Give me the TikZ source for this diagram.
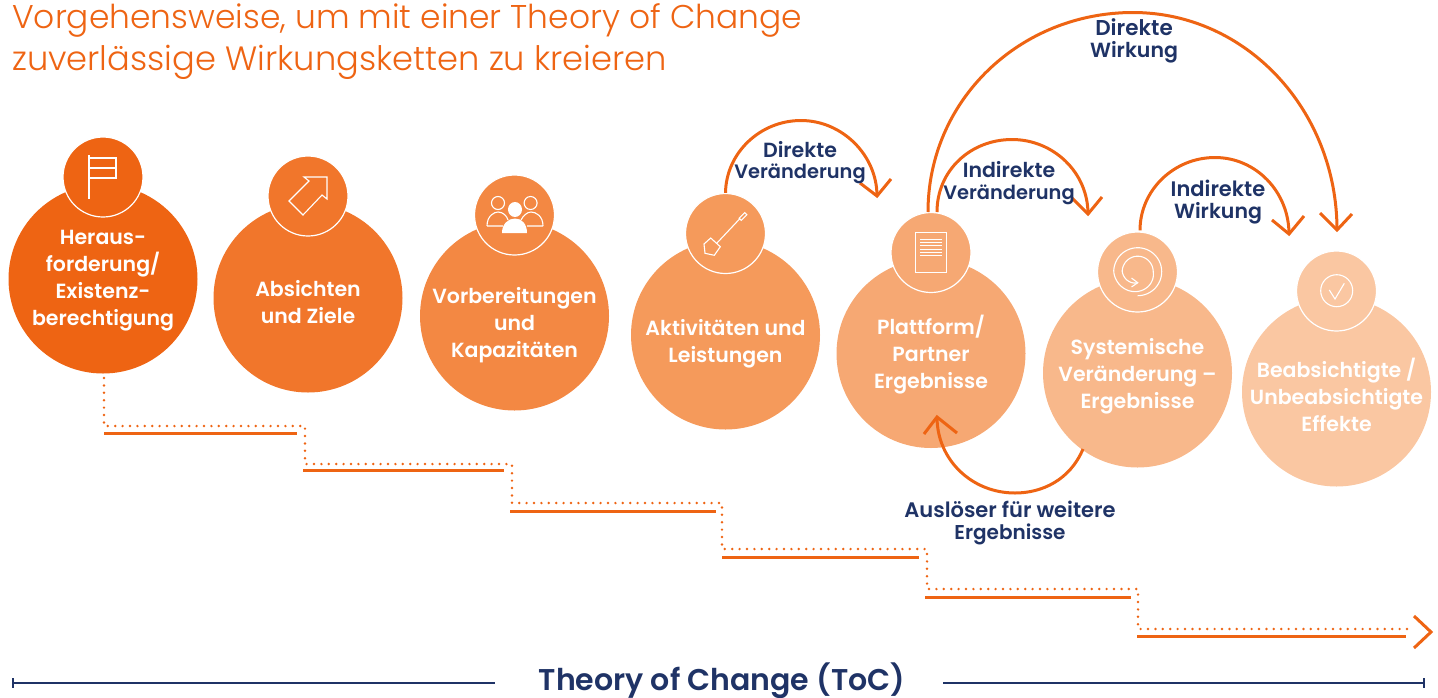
\documentclass[tikz,border=0pt]{standalone}
\usepackage{fontspec}
\setmainfont{Poppins}[UprightFont=* SemiBold]
\newfontfamily\ttl{Poppins}[UprightFont=* Light]
\definecolor{c1}{HTML}{EE6413}\definecolor{c2}{HTML}{F1762B}\definecolor{c3}{HTML}{F38843}
\definecolor{c4}{HTML}{F59A5B}\definecolor{c5}{HTML}{F6A873}\definecolor{c6}{HTML}{F8B88B}
\definecolor{c7}{HTML}{FAC7A2}\definecolor{navy}{HTML}{1F3366}\definecolor{ora}{HTML}{EE6413}
\newcommand{\lsz}[1]{\fontsize{#1}{21.5}\selectfont}
\tikzset{
 big/.style={circle,fill=#1,minimum size=189pt,inner sep=0pt},
 small/.style={circle,fill=#1,draw=white,line width=1.2pt,minimum size=80pt,inner sep=0pt},
 intxt/.style={text=white,align=center,font=\fontsize{20.5}{27}\selectfont},
 lbl/.style={text=navy,align=center,font=\fontsize{20}{21.5}\selectfont},
 conn/.style={draw=ora,line width=3pt},
 icon/.style={draw=white,line width=1.1pt},
 dots/.style={draw=ora,line width=2.7pt,line cap=round,dash pattern=on 0pt off 7.4pt},
 stepline/.style={draw=ora,line width=3pt},
 rule/.style={draw=navy,line width=2.2pt}
}
\begin{document}
\begin{tikzpicture}[x=1pt,y=-1pt,declare function={sprad(\t)=(\t<180)*24+(\t>=180)*(\t<360)*(24-8.5*(\t-180)/180)+(\t>=360)*(\t<540)*15.5+(\t>=540)*(15.5-4.5*(\t-540)/90);}]
\useasboundingbox (0,0) rectangle (1438,697);
\node[anchor=base west,inner sep=0pt,text=ora,font=\ttl\fontsize{32.9}{33}\selectfont] (title1) at (12,28) {Vorgehensweise, um mit einer Theory of Change};
\node[anchor=base west,inner sep=0pt,text=ora,font=\ttl\fontsize{33.7}{34}\selectfont] (title2) at (12,70.5) {zuverlässige Wirkungsketten zu kreieren};
% circles
\node[big=c1] (b1) at (103,279) {};\node[small=c1] (s1) at (103,177) {};
\node[big=c2] (b2) at (308,298) {};\node[small=c2] (s2) at (308,196) {};
\node[big=c3] (b3) at (514.5,316) {};\node[small=c3] (s3) at (514.5,215) {};
\node[big=c4] (b4) at (725.5,335) {};\node[small=c4] (s4) at (725.5,233.5) {};
\node[big=c5] (b5) at (931,353.5) {};\node[small=c5] (s5) at (931,252.5) {};
\node[big=c6] (b6) at (1137.5,373) {};\node[small=c6] (s6) at (1137.5,272) {};
\node[big=c7] (b7) at (1336.5,392) {};\node[small=c7] (s7) at (1336.5,291) {};
% circle texts
\node[intxt] (t1) at (103,281) {Heraus-\\forderung/\\Existenz-\\berechtigung};
\node[intxt] (t2) at (308,302.5) {Absichten\\und Ziele};
\node[intxt] (t3) at (514.5,325) {Vorbereitungen\\und\\Kapazitäten};
\node[intxt] (t4) at (725.5,344) {Aktivitäten und\\Leistungen};
\node[intxt] (t5) at (931,355) {Plattform/\\Partner\\Ergebnisse};
\node[intxt] (t6) at (1137.5,376) {Systemische\\Veränderung –\\Ergebnisse};
\node[intxt] (t7) at (1336.5,395) {Beabsichtigte /\\Unbeabsichtigte\\Effekte};
% icons
\draw[icon] (89,155) -- (89,199) (89,158) -- (116,158) -- (116,178) -- (89,178) (89,168) -- (116,168);
\draw[icon,line join=miter] (304,177) -- (327,177) -- (327,199) -- (322,195) -- (303,215) -- (289,201) -- (309,181) -- cycle;
\draw[icon] (498,203) ellipse (6.5pt and 6.5pt) (530.6,203) ellipse (6.5pt and 6.5pt);
\draw[icon] (487,226) .. controls (487,216) and (494,212) .. (498,212) .. controls (503,212) and (507,216) .. (508,220) (543,226) .. controls (543,216) and (536,212) .. (531,212) .. controls (527,212) and (523,216) .. (521,220) (487,226) -- (503,226) (527,226) -- (543,226);
\fill[white] (515,209.5) ellipse (7pt and 7.5pt);
\fill[white] (502,233) .. controls (502,224) and (508,218.5) .. (515,218.5) .. controls (522,218.5) and (527,224) .. (527,233) -- cycle;
\draw[icon] (740,218.5) -- (716.7,243.3);
\draw[icon,rotate around={45:(743,216.5)}] (739,215) rectangle (747,218);
\draw[icon] (710.7,238) -- (720.3,246.7) -- (714.3,255.3) -- (705,253.3) -- (704,244) -- cycle;
\draw[icon] (915.3,232.7) rectangle (946.7,272.3);
\foreach \y in {239.3,242.6,245.9,249.2,252.5,255.8} \draw[white,line width=0.9pt] (920,\y) -- (942,\y);
\draw[icon] plot[domain=-90:630,samples=120,smooth] ({1137.7+sprad(\x)*cos(\x)},{271.7-sprad(\x)*sin(\x)});
\draw[icon] (1131.5,278) -- (1137.7,282.7) -- (1131.5,287);
\draw[icon] (1336.7,290.7) circle (16pt);
\draw[icon] (1329.3,290) -- (1335,299) -- (1344.3,283.3);
% connectors
\coordinate (e1) at (877,196);
\coordinate (e2) at (1088,214);
\coordinate (e3) at (1289,234);
\coordinate (e4) at (1337,230);
\coordinate (e5) at (937,417);
\coordinate (o5) at (1083,449);
\draw[conn] (s4.north) .. controls (726,153) and (760,120.5) .. (801,120.5) .. controls (842,120.5) and (877,155) .. (e1);
\draw[conn,line join=miter] (860,183) -- (e1) -- (891,179);
\draw[conn] (928,212) .. controls (928,100) and (1020,12.5) .. (1133,12.5) .. controls (1246,12.5) and (1337,110) .. (e4);
\draw[conn,line join=miter] (1320,213) -- (e4) -- (1352,214);
\draw[conn] (937,212) .. controls (937,170) and (971,139.5) .. (1012,139.5) .. controls (1053,139.5) and (1088,172) .. (e2);
\draw[conn,line join=miter] (1072,198) -- (e2) -- (1102,197);
\draw[conn] (s6.north) ++(2.5,-1) .. controls (1140,190) and (1174,157.5) .. (1215,157.5) .. controls (1256,157.5) and (1289,192) .. (e3);
\draw[conn,line join=miter] (1272,220) -- (e3) -- (1304,216);
\draw[conn] (o5) .. controls (1070,480) and (1042,493) .. (1015,493) .. controls (972,493) and (937,460) .. (e5);
\draw[conn,line join=miter] (924,434) -- (e5) -- (957,433);
% connector labels
\node[lbl] (l1) at (800,162.5) {\lsz{20.5}Direkte\\\lsz{19.4}Veränderung};
\node[lbl] (l2) at (1134,41) {\lsz{21.5}Direkte\\\lsz{20.5}Wirkung};
\node[lbl] (l3) at (1009,183) {\lsz{20.5}Indirekte\\\lsz{19.4}Veränderung};
\node[lbl] (l4) at (1218,202) {\lsz{21}Indirekte\\\lsz{20.5}Wirkung};
\node[lbl] (l5) at (1010,523) {\lsz{21}Auslöser für weitere\\Ergebnisse};
% steps
\draw[dots] (104,378) -- (104,426) -- (305,426) -- (305,464) -- (512,464) -- (512,503) -- (722,503) -- (722,549) -- (927,549) -- (927,589) -- (1138,589) -- (1138,629) -- (1408,629);
\draw[stepline] (104,433.5) -- (297,433.5);
\draw[stepline] (303,470.5) -- (504,470.5);
\draw[stepline] (510,511) -- (716,511);
\draw[stepline] (722,557) -- (919,557);
\draw[stepline] (925,597) -- (1131,597);
\draw[stepline] (1137,636) -- (1406,636);
\draw[conn,line join=miter] (1414,616) -- (1431,632) -- (1414,648);
% bottom
\node[anchor=base,text=navy,font=\fontsize{30}{30}\selectfont] (toc) at (722,690) {Theory of Change (ToC)};
\coordinate (rl) at (13,683);\coordinate (rr) at (1424,683);
\draw[rule] (rl) -- (495,683);\draw[rule] (943,683) -- (rr);
\draw[navy,line width=1.5pt] (13,678) -- (13,688) (1424,678) -- (1424,688);
\end{tikzpicture}
\end{document}
